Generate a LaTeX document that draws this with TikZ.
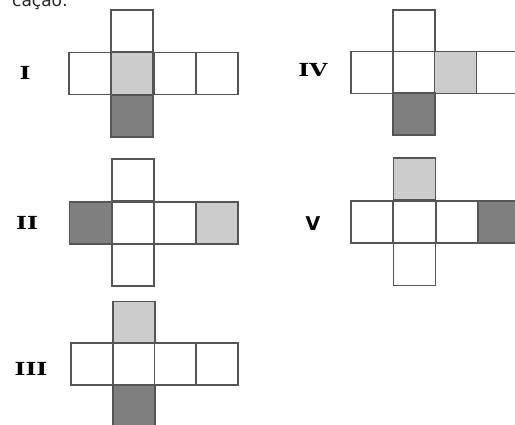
\documentclass[tikz,border=0pt]{standalone}
\usepackage{fontspec}
\newfontfamily\labserif{DejaVu Serif}
\newfontfamily\labsans{DejaVu Sans}
\definecolor{edgec}{HTML}{555555}
\definecolor{lightg}{HTML}{CCCCCC}
\definecolor{darkg}{HTML}{7F7F7F}
\begin{document}
\begin{tikzpicture}[x=1pt,y=-1pt]
\tikzset{
  sq/.style={draw=edgec, line width=1.3pt, minimum size=42pt, inner sep=0pt, outer sep=0pt, fill=white},
  lt/.style={sq, fill=lightg},
  dk/.style={sq, fill=darkg},
  lab/.style={font=\labserif\bfseries\fontsize{18}{18}\selectfont, inner sep=0pt, xscale=1.3},
  labs/.style={font=\labsans\bfseries\fontsize{19}{19}\selectfont, inner sep=0pt}
}
\clip (0,0) rectangle (515,424);
\useasboundingbox (0,0) rectangle (515,424);
\fill[white] (0,0) rectangle (515,424);
% header fragment
\node[anchor=base west, inner sep=0pt, font=\labsans\fontsize{17}{17}\selectfont, text=black!85] (hdr) at (12,6) {cação:};
% ---------- I ----------
\node[lab] (lI) at (25,73) {I};
\node[sq] (I-t) at (132,31) {};
\node[sq] (I-1) at (90,73.5) {};
\node[sq] (I-3) at (175,73.5) {};
\node[sq] (I-4) at (217,73.5) {};
\node[lt] (I-2) at (132,73.5) {};
\node[dk] (I-b) at (132,116) {};
% ---------- II ----------
\node[lab] (lII) at (27,223) {II};
\node[sq] (II-t) at (133,180) {};
\node[sq] (II-2) at (133,223) {};
\node[sq] (II-3) at (175,223) {};
\node[sq] (II-b) at (133,265) {};
\node[dk] (II-1) at (90.5,223) {};
\node[lt] (II-4) at (217,223) {};
% ---------- III ----------
\node[lab] (lIII) at (31,369) {III};
\node[lt] (III-t) at (134,322.5) {};
\node[sq] (III-1) at (92,364) {};
\node[sq] (III-2) at (134,364) {};
\node[sq] (III-3) at (175.5,364) {};
\node[sq] (III-4) at (217,364) {};
\node[dk] (III-b) at (134,406) {};
% ---------- IV ----------
\node[lab] (lIV) at (313,70) {IV};
\node[sq] (IV-t) at (414,31) {};
\node[sq] (IV-1) at (372,72.5) {};
\node[sq] (IV-2) at (414,72.5) {};
\node[sq] (IV-4) at (497,72.5) {};
\node[lt] (IV-3) at (455.5,72.5) {};
\node[dk] (IV-b) at (414,114) {};
% ---------- V ----------
\node[labs] (lV) at (313,224) {V};
\node[lt] (V-t) at (414.5,179) {};
\node[sq] (V-1) at (372,222) {};
\node[sq] (V-2) at (414.5,222) {};
\node[sq] (V-3) at (457,222) {};
\node[sq] (V-b) at (414.5,264.5) {};
\node[dk] (V-4) at (499,222) {};
\end{tikzpicture}
\end{document}
